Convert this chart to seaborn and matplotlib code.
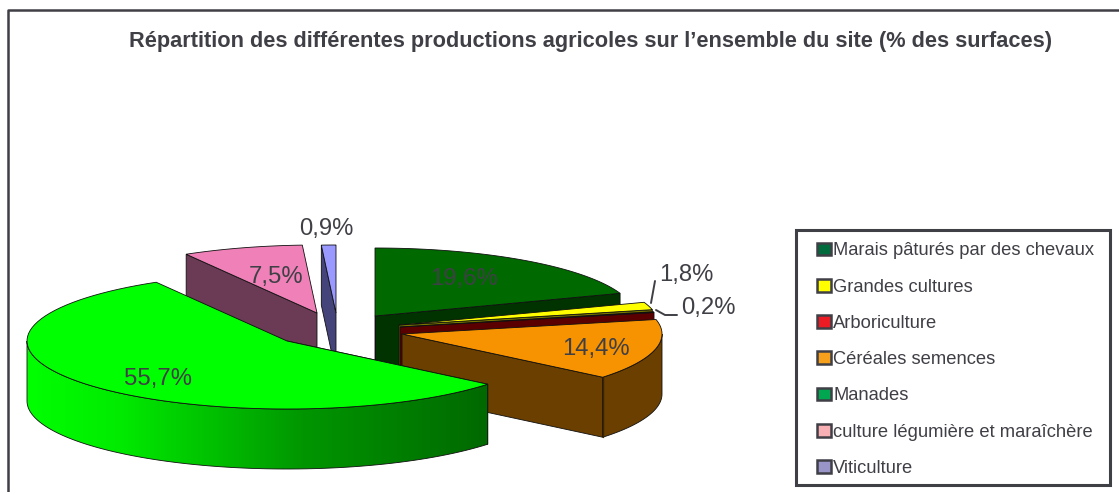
import numpy as np
import matplotlib
matplotlib.use("Agg")
import matplotlib.pyplot as plt
from matplotlib.patches import Polygon, Rectangle, Patch
import seaborn as sns

sns.set_theme(style="white")
plt.rcParams['font.family'] = ['Liberation Sans', 'DejaVu Sans']

title = "Répartition des différentes productions agricoles sur l’ensemble du site (% des surfaces)"
categories = ["Marais pâturés par des chevaux", "Grandes cultures", "Arboriculture", "Céréales semences",
              "Manades", "culture légumière et maraîchère", "Viticulture"]
values = [19.6, 1.8, 0.2, 14.4, 55.7, 7.5, 0.9]
labels = ["19,6%", "1,8%", "0,2%", "14,4%", "55,7%", "7,5%", "0,9%"]
top_colors = sns.color_palette(["#006a00", "#ffff00", "#7a0000", "#f79200", "#00ff00", "#ef80b8", "#9999ff"])
side_colors = sns.color_palette(["#003300", "#777700", "#5a0000", "#6b3f00", "#00a000", "#6b3a55", "#44447a"])
legend_colors = ["#006b3c", "#ffff00", "#ed1c24", "#f7a01c", "#00a650", "#f9b0b5", "#9a95c9"]
apex = [(375, 316), (399, 325), (400, 327), (402, 334), (287, 341), (317, 313), (336, 313)]
label_pos = [(464, 279), (686, 275), (708, 308), (596, 349), (158, 379), (276, 277), (326, 229)]

RX, RY, DEPTH = 260, 68, 60
INK = "#3f3f46"

fig = plt.figure(figsize=(11.19, 4.92), dpi=100)
ax = fig.add_axes([0, 0, 1, 1])
ax.set_xlim(0, 1119)
ax.set_ylim(492, 0)
ax.axis("off")

# outer frame: left and top sides only are inside the picture
ax.plot([8, 8, 1119], [492, 10, 10], color=INK, lw=1.8, zorder=1)


def arc(c, a0, a1, n=80):
    t = np.radians(np.linspace(a0, a1, n))
    return np.c_[c[0] + RX * np.sin(t), c[1] - RY * np.cos(t)]


pct = np.array(values) / np.sum(values) * 360
ends = np.cumsum(pct)
starts = ends - pct
edge = dict(edgecolor="#101010", lw=0.6)
down = np.array([0, DEPTH])

order = [0, 1, 2, 5, 6, 3, 4]
z = 2
for i in order:
    c, a0, a1 = np.array(apex[i], dtype=float), starts[i], ends[i]
    a = arc(c, a0, a1)
    # radial cut faces that can be seen from the front
    cut_points = []
    if i in (0, 1, 2, 3):
        cut_points.append(a[-1])
    if i in (0, 4, 5, 6):
        cut_points.append(a[0])
    for p in cut_points:
        ax.add_patch(Polygon([c, p, p + down, c + down], closed=True, facecolor=side_colors[i], zorder=z, **edge))
    # outer rim
    if i == 3:
        vis = arc(c, 90, a1)
        rim = np.vstack([vis, (vis + down)[::-1]])
        ax.add_patch(Polygon(rim, closed=True, facecolor=side_colors[i], zorder=z, **edge))
        ax.plot([a[-1][0]] * 2, [a[-1][1], a[-1][1] + DEPTH], color="#3d2400", lw=1, zorder=z + 0.5)
    if i == 4:
        vis = arc(c, a0, 270)
        rim = np.vstack([vis, (vis + down)[::-1]])
        p = Polygon(rim, closed=True, facecolor="none", edgecolor="#101010", lw=0.6, zorder=z + 0.2)
        ax.add_patch(p)
        xs = np.linspace(0, 1, 256)
        pos = [0, 0.2, 0.6, 1]
        green = np.interp(xs, pos, [255, 235, 150, 105]) / 255
        grad = np.stack([np.zeros(256), green, np.zeros(256)], axis=-1)[None, :, :]
        im = ax.imshow(grad, extent=(c[0] - RX, a[0][0], 492, 0), aspect="auto", zorder=z + 0.1)
        im.set_clip_path(p)
    ax.add_patch(Polygon(np.vstack([[c], a]), closed=True, facecolor=top_colors[i], zorder=z + 1, **edge))
    z += 2

ax.set_xlim(0, 1119)
ax.set_ylim(492, 0)

# value labels
for lab, (x, y) in zip(labels, label_pos):
    ax.text(x, y, lab, fontsize=17.2, color=INK, ha="center", va="center", zorder=30)

# leader lines for the two thin slices
ax.plot([651, 655], [303, 281], color=INK, lw=1.4, zorder=31)
ax.plot([656, 665, 677], [310, 315, 315], color=INK, lw=1.4, zorder=31)

ax.text(591, 42, title, fontsize=15.7, fontweight="bold", color=INK, ha="center", va="center", zorder=30)

# legend
ax.add_patch(Rectangle((796, 230), 314, 255, facecolor="white", edgecolor=INK, lw=2.2, zorder=20))
handles = [Patch(facecolor=col, edgecolor=INK, lw=1.8, label=cat) for col, cat in zip(legend_colors, categories)]
ax.legend(handles=handles, loc="upper left", bbox_to_anchor=(810.5, 236), bbox_transform=ax.transData,
          frameon=False, fontsize=13.2, labelcolor=INK, handlelength=0.75, handleheight=0.7,
          handletextpad=0.13, labelspacing=1.05, borderpad=0.35, borderaxespad=0).set_zorder(25)

fig.savefig("out.png", dpi=100)
